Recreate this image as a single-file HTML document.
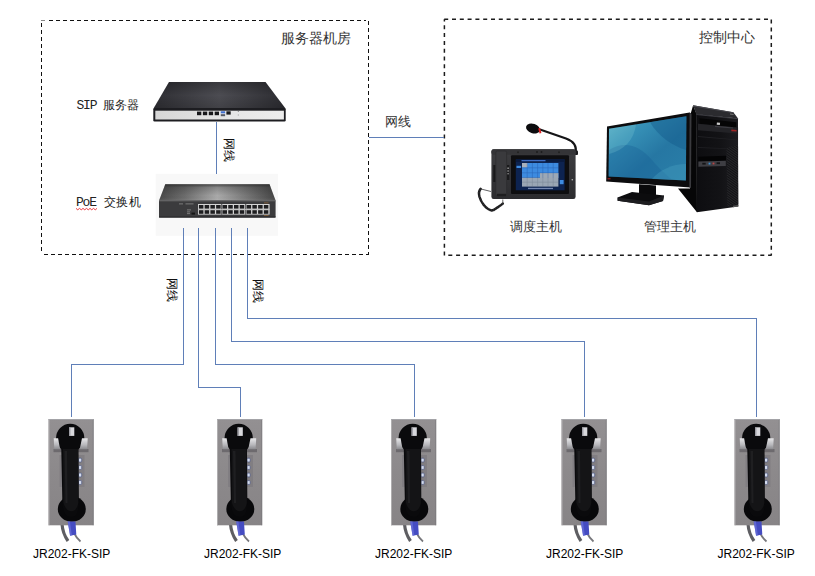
<!DOCTYPE html>
<html lang="zh">
<head>
<meta charset="utf-8">
<title>SIP 网络拓扑</title>
<style>
html,body{margin:0;padding:0;background:#fff;}
body{width:815px;height:576px;position:relative;overflow:hidden;font-family:"Liberation Sans",sans-serif;}
svg{position:absolute;left:0;top:0;}
.t{position:absolute;white-space:nowrap;line-height:1;color:#333;}
.title{font-size:14.15px;color:#333;}
.mono{font-family:"Liberation Mono","Liberation Sans",sans-serif;font-size:13px;letter-spacing:-1.2px;color:#222;}
.mono b{font-weight:normal;font-family:"Liberation Sans",sans-serif;font-size:12px;letter-spacing:0;}
.cap{font-size:12.6px;color:#333;}
.net{font-size:12.9px;color:#333;}
.vnet{writing-mode:vertical-rl;text-orientation:sideways;font-size:12px;color:#111;}
.model{font-size:12px;color:#000;}
</style>
</head>
<body>
<svg id="g" width="815" height="576" viewBox="0 0 815 576">
<!-- dashed boxes -->
<g fill="none" stroke="#111" stroke-width="1" stroke-dasharray="4 3" shape-rendering="crispEdges">
<path d="M49 20.500H366"/>
<path d="M368.500 21V254"/>
<path d="M44 254.500H369"/>
<path d="M41.500 23V252"/>
</g>
<rect x="41" y="20" width="4" height="1" fill="#888"/>
<g fill="none" stroke="#1c1c1c" stroke-width="1.500" stroke-dasharray="4 3.800">
<path d="M444.200 19.200H771.500"/>
<path d="M771.300 19.600V255.500"/>
<path d="M448.300 255.300H771.500"/>
<path d="M444.400 19.200V256" stroke-dashoffset="1.700"/>
</g>
<!-- wires -->
<defs>
<linearGradient id="srvTop" x1="0" y1="0" x2="1" y2="0">
<stop offset="0" stop-color="#2f2f34"/><stop offset="0.5" stop-color="#4c4c52"/><stop offset="1" stop-color="#2c2c31"/>
</linearGradient>
<linearGradient id="srvTopV" x1="0" y1="0" x2="0" y2="1">
<stop offset="0" stop-color="#000" stop-opacity="0.25"/><stop offset="0.5" stop-color="#000" stop-opacity="0"/><stop offset="1" stop-color="#000" stop-opacity="0.15"/>
</linearGradient>
<linearGradient id="srvFront" x1="0" y1="0" x2="1" y2="0">
<stop offset="0" stop-color="#d6d6d6"/><stop offset="0.5" stop-color="#e4e4e4"/><stop offset="1" stop-color="#ececec"/>
</linearGradient>
<linearGradient id="swTop" x1="0" y1="0" x2="1" y2="0">
<stop offset="0" stop-color="#484848"/><stop offset="0.22" stop-color="#6c6c6c"/><stop offset="0.5" stop-color="#aaaaaa"/><stop offset="0.78" stop-color="#707070"/><stop offset="1" stop-color="#444"/>
</linearGradient>
<linearGradient id="swTopV" x1="0" y1="0" x2="0" y2="1">
<stop offset="0" stop-color="#222" stop-opacity="0.7"/><stop offset="0.2" stop-color="#222" stop-opacity="0.25"/><stop offset="0.7" stop-color="#222" stop-opacity="0"/><stop offset="1" stop-color="#fff" stop-opacity="0.1"/>
</linearGradient>
<linearGradient id="plate" x1="0" y1="0" x2="0" y2="1">
<stop offset="0" stop-color="#939092"/><stop offset="0.5" stop-color="#8c898b"/><stop offset="1" stop-color="#878486"/>
</linearGradient>
<linearGradient id="hook" x1="0" y1="0" x2="0" y2="1">
<stop offset="0" stop-color="#e8e8ea"/><stop offset="0.6" stop-color="#b8b8bc"/><stop offset="1" stop-color="#8a8a8e"/>
</linearGradient>
<g id="phone">
<!-- cables -->
<path d="M13.500 105 C14 112 16 117 19.500 122" fill="none" stroke="#5e5e62" stroke-width="3.200"/>
<path d="M25.500 114 C27 117 29 120 32 122.500" fill="none" stroke="#77777b" stroke-width="1.800"/>
<!-- plate -->
<rect x="0" y="0" width="45.200" height="106.300" fill="url(#plate)"/>
<rect x="0" y="0" width="1" height="106.300" fill="#b8b6b8" opacity="0.800"/><rect x="44.200" y="0" width="1" height="106.300" fill="#77757a" opacity="0.600"/>
<rect x="0" y="0" width="45.200" height="1" fill="#a8a8ac" opacity="0.800"/>
<!-- base strip -->
<rect x="5" y="30" width="35" height="3.200" fill="#6d6a6e"/>
<!-- keypad -->
<rect x="11" y="36" width="25" height="32" fill="#817e82"/>
<g fill="#d4dcee" stroke="#4b547c" stroke-width="0.700">
<rect x="30" y="39.200" width="3.200" height="3.800" rx="0.900"/>
<rect x="30" y="46.600" width="3.200" height="3.800" rx="0.900"/>
<rect x="30" y="54.100" width="3.200" height="3.800" rx="0.900"/>
<rect x="30" y="61.600" width="3.200" height="3.800" rx="0.900"/>
</g>
<!-- handset -->
<ellipse cx="23.300" cy="90" rx="14" ry="12.800" fill="#08080a"/>
<path d="M7.500 19.500 A14.200 14.700 0 0 1 35.900 19.500 C35.900 23.500 33 27 30 30.500 L30.300 80 C30.300 92 29 98 23 98 C16 98 14 92 13.800 80 L12.800 30.500 C10 27 7.500 23.500 7.500 19.500 Z" fill="#0a0a0c"/>
<path d="M14.500 30 L29.500 30 L29.800 84 C28 95 18 95 15 84 Z" fill="#141416"/>
<path d="M16 32 L18.500 32 L19 84 L17 84 Z" fill="#232326" opacity="0.700"/>
<rect x="20.600" y="8.300" width="5.200" height="8.600" fill="#d8d8dc"/>
<rect x="20.600" y="8.300" width="1.300" height="8.600" fill="#9a9aa0"/>
<path d="M19.200 102.600 L27 102.600 L27.800 115.400 L21.600 116.800 Z" fill="#454cc2"/><path d="M19.200 102.600 L21.400 102.600 L23.400 116.400 L21.600 116.800 Z" fill="#6b72da" opacity="0.700"/>
<!-- hooks -->
<path d="M5.200 19.200 L9.600 19.200 L11.600 30.200 L5.800 30.200 Z" fill="url(#hook)"/>
<path d="M33.500 19.200 L39.200 19.200 L38.600 30.200 L31.200 30.200 Z" fill="url(#hook)"/>
</g>
</defs>
<path d="M76.00 208.4 L77.75 209.8 L79.50 208.4 L81.25 209.8 L83.00 208.4 L84.75 209.8 L86.50 208.4 L88.25 209.8 L90.00 208.4 L91.75 209.8 L93.50 208.4 L95.25 209.8 L97.00 208.4" fill="none" stroke="#e8242a" stroke-width="0.9"/>
<!-- server -->
<g id="server">
<path d="M169 82 L265.500 82 L285.500 108.500 L153.500 108.500 Z" fill="url(#srvTop)"/>
<path d="M169 82 L265.500 82 L285.500 108.500 L153.500 108.500 Z" fill="url(#srvTopV)"/>
<rect x="153.300" y="108" width="132.400" height="13.400" rx="1.200" fill="#1d1d21"/>
<rect x="155.300" y="110.700" width="128.600" height="8.800" fill="url(#srvFront)"/>
<g fill="#17171a">
<rect x="197" y="111.600" width="4.300" height="3.600"/><rect x="202.900" y="111.600" width="4.300" height="3.600"/><rect x="208.800" y="111.600" width="4.300" height="3.600"/><rect x="214.700" y="111.600" width="4.300" height="3.600"/>
<rect x="226.400" y="111.300" width="4.300" height="3.300"/>
</g>
<rect x="220.800" y="111.300" width="4.300" height="2" fill="#3f6fd0"/><rect x="220.800" y="114.200" width="4.300" height="2" fill="#555a66"/>
<rect x="237.800" y="111" width="1" height="1" fill="#888"/><rect x="237.800" y="114.500" width="1" height="1" fill="#999"/>
</g>
<!-- switch -->
<g id="switch">
<rect x="155.700" y="173.800" width="122.300" height="62" fill="#f8f8f8"/>
<path d="M165.300 184.300 L269.500 184.300 L275.600 200.600 L159 200.600 Z" fill="url(#swTop)"/>
<path d="M165.300 184.300 L269.500 184.300 L275.600 200.600 L159 200.600 Z" fill="url(#swTopV)"/>
<rect x="159" y="200.300" width="116.600" height="17.300" rx="0.800" fill="#3b3b3d"/>
<rect x="159" y="200.300" width="116.600" height="1" fill="#6a6a6c"/>
<rect x="159" y="216.400" width="116.600" height="1.200" fill="#2a2a2b"/>
<rect x="198" y="204" width="71.600" height="10.600" fill="#d4d4d4"/>
<g fill="#1e1e20">
<rect x="198.90" y="205" width="4.5" height="3.6"/><rect x="198.90" y="210.2" width="4.5" height="3.6"/><rect x="204.65" y="205" width="4.5" height="3.6"/><rect x="204.65" y="210.2" width="4.5" height="3.6"/><rect x="210.40" y="205" width="4.5" height="3.6"/><rect x="210.40" y="210.2" width="4.5" height="3.6"/><rect x="216.15" y="205" width="4.5" height="3.6"/><rect x="216.15" y="210.2" width="4.5" height="3.6"/><rect x="222.50" y="205" width="4.5" height="3.6"/><rect x="222.50" y="210.2" width="4.5" height="3.6"/><rect x="228.25" y="205" width="4.5" height="3.6"/><rect x="228.25" y="210.2" width="4.5" height="3.6"/><rect x="234.00" y="205" width="4.5" height="3.6"/><rect x="234.00" y="210.2" width="4.5" height="3.6"/><rect x="239.75" y="205" width="4.5" height="3.6"/><rect x="239.75" y="210.2" width="4.5" height="3.6"/><rect x="246.60" y="205" width="4.5" height="3.6"/><rect x="246.60" y="210.2" width="4.5" height="3.6"/><rect x="252.35" y="205" width="4.5" height="3.6"/><rect x="252.35" y="210.2" width="4.5" height="3.6"/><rect x="258.10" y="205" width="4.5" height="3.6"/><rect x="258.10" y="210.2" width="4.5" height="3.6"/><rect x="263.85" y="205" width="4.5" height="3.6"/><rect x="263.85" y="210.2" width="4.5" height="3.6"/>
</g>
<rect x="221.300" y="204" width="0.900" height="10.600" fill="#3b3b3d"/><rect x="245.300" y="204" width="0.900" height="10.600" fill="#3b3b3d"/>
<rect x="198" y="209" width="71.600" height="0.800" fill="#bdbdbd"/>
<g fill="#8a8a8a"><rect x="179" y="203.500" width="4" height="0.800"/><rect x="185.500" y="203.500" width="8" height="0.800"/>
<rect x="187" y="209.500" width="4" height="0.800"/><rect x="187" y="211.500" width="3" height="0.800"/><rect x="187" y="213.300" width="3" height="0.800"/></g>
<rect x="191.500" y="212.600" width="3.500" height="2" fill="#151515"/>
<rect x="264" y="202.500" width="4.500" height="0.800" fill="#8a6238"/><rect x="264" y="215.200" width="4.500" height="0.800" fill="#8a6238"/>
</g>
<g id="wires" fill="none" stroke="#5f7fb8" stroke-width="1" shape-rendering="crispEdges">
<path d="M369 137.5H444"/>
<path d="M216.5 122V174"/>
<path d="M183.5 228V364.5H71.5V417"/>
<path d="M198.5 228V387.5H240.5V417"/>
<path d="M215.5 228V364.5H414.5V417"/>
<path d="M231.5 228V341.5H584.5V417"/>
<path d="M247.5 228V318.5H756.5V417"/>
</g>
<!-- phones -->
<use href="#phone" x="48.500" y="419"/>
<use href="#phone" x="217" y="419"/>
<use href="#phone" x="391" y="419"/>
<use href="#phone" x="561.500" y="419"/>
<use href="#phone" x="734.500" y="419"/>

<defs>
<linearGradient id="scr" x1="0" y1="0" x2="1" y2="1">
<stop offset="0" stop-color="#5cb2c8"/><stop offset="0.28" stop-color="#3690b6"/><stop offset="0.6" stop-color="#2677a3"/><stop offset="1" stop-color="#2a7fa9"/>
</linearGradient>
<linearGradient id="towerF" x1="0" y1="0" x2="1" y2="0">
<stop offset="0" stop-color="#0d0d10"/><stop offset="0.6" stop-color="#131316"/><stop offset="1" stop-color="#1c1c20"/>
</linearGradient>
<linearGradient id="conBody" x1="0" y1="0" x2="0" y2="1">
<stop offset="0" stop-color="#3d3d40"/><stop offset="1" stop-color="#2c2c2f"/>
</linearGradient>
<pattern id="mesh" width="2" height="2" patternUnits="userSpaceOnUse" patternTransform="rotate(35)">
<rect width="2" height="2" fill="#121215"/><rect width="2" height="0.800" fill="#2a2a2e"/>
</pattern>
</defs>
<!-- dispatcher console -->
<g id="console">
<!-- coiled cord -->
<path d="M491 191.500 L481 189" fill="none" stroke="#3a3a3c" stroke-width="0.800"/>
<path d="M480.600 188.800 C478.600 191 478.800 194 479.400 196.500 C480.400 200 481.800 202.600 483.600 204.800 C486 207.800 489 210.200 491.800 210.500 C494 210.300 496 208.600 497.800 207.200 C499.600 206 501.400 204.800 502.800 203.600" fill="none" stroke="#1b1b1d" stroke-width="2.500" stroke-linecap="round"/>
<path d="M480.600 188.800 C478.600 191 478.800 194 479.400 196.500 C480.400 200 481.800 202.600 483.600 204.800 C486 207.800 489 210.200 491.800 210.500 C494 210.300 496 208.600 497.800 207.200 C499.600 206 501.400 204.800 502.800 203.600" fill="none" stroke="#555" stroke-width="2.500" stroke-dasharray="0.500 1.600" opacity="0.600"/>
<path d="M502.800 199.500V203.600" stroke="#444" stroke-width="0.800"/>
<!-- mic gooseneck -->
<path d="M575.500 153 C577 146 573 141 566 138.500 L540 129.500" fill="none" stroke="#151517" stroke-width="2.200" stroke-linecap="round"/>
<rect x="572" y="150.500" width="6" height="4.500" rx="1" fill="#1a1a1c"/>
<ellipse cx="533" cy="128.500" rx="7.200" ry="4.700" transform="rotate(19 533 128.500)" fill="#0c0c0e"/>
<path d="M539.100 128.200 L540.500 133.200" stroke="#d22" stroke-width="1.900"/>
<!-- body -->
<rect x="491.400" y="149.200" width="84.200" height="49.800" rx="2.200" fill="url(#conBody)"/>
<rect x="491.400" y="149.200" width="84.200" height="5.500" rx="2.200" fill="#343437"/>
<circle cx="518" cy="152.200" r="1" fill="#222"/><circle cx="537" cy="152" r="1" fill="#1c1c1e"/><circle cx="541.500" cy="152" r="1" fill="#1c1c1e"/><circle cx="559" cy="152.200" r="1" fill="#222"/>
<!-- handset -->
<rect x="495.800" y="151" width="10.800" height="44.500" rx="1.500" fill="#3a3a3d"/>
<rect x="495.800" y="151" width="10.800" height="44.500" rx="1.500" fill="none" stroke="#2a2a2c" stroke-width="0.600"/>
<rect x="493.300" y="165" width="2" height="17" fill="#19191b"/>
<rect x="507" y="165" width="2.300" height="15" fill="#1a1a1c"/>
<rect x="507.400" y="167.500" width="1.400" height="1.400" fill="#aaa"/><rect x="507.400" y="170.300" width="1.400" height="1.400" fill="#999"/><rect x="507.400" y="173" width="1.400" height="1.400" fill="#888"/>
<rect x="497" y="193.800" width="9" height="2.400" fill="#1e1e20"/>
<!-- screen bezel -->
<rect x="511" y="155.300" width="58" height="38.800" rx="1" fill="#0e0e10"/>
<rect x="515.800" y="159.300" width="48.800" height="31" fill="#0d2350"/>
<rect x="515.800" y="159.300" width="48.800" height="2.600" fill="#0a1a3c"/>
<rect x="521.500" y="160" width="24" height="1.300" fill="#3f6cc0"/>
<!-- grid -->
<rect x="522" y="163" width="36.400" height="14.800" fill="#3d8be0"/>
<rect x="540" y="173" width="18.400" height="5" fill="#9ca8b6"/>
<rect x="522" y="177.800" width="36.400" height="8.800" fill="#9aa6b4"/>
<rect x="522" y="163" width="5.400" height="4.400" fill="#aab2bc"/>
<g stroke="#1c4a9c" stroke-width="0.500" opacity="0.600"><path d="M522 167.800H558.400M522 172.800H558.400M527.200 163V177.800M532.400 163V177.800M537.600 163V177.800M542.800 163V177.800M548 163V177.800M553.200 163V177.800"/></g>
<g stroke="#5d6a7a" stroke-width="0.500" opacity="0.500"><path d="M522 182.200H558.400M527.200 177.800V186.600M532.400 177.800V186.600M537.600 177.800V186.600M542.800 177.800V186.600M548 177.800V186.600M553.200 177.800V186.600"/></g>
<rect x="516.500" y="165.800" width="4.600" height="2.200" fill="#3d8be0"/>
<rect x="559.800" y="180" width="3.800" height="4.200" fill="#3d8be0"/>
<rect x="528" y="187.800" width="25" height="1.300" fill="#8fa0c8" opacity="0.800"/>
<circle cx="572.300" cy="179.800" r="0.800" fill="#bbb"/>
</g>
<!-- monitor + tower -->
<g id="pc">
<!-- tower -->
<path d="M690 116 L693.100 105.300 L696.600 114 L697 212.300 L678 188.500 L690 188.500 Z" fill="#060607"/>
<path d="M696.200 113.800 L738 118.400 L738.300 206.400 L696.800 212.300 Z" fill="url(#towerF)"/>
<path d="M693.100 105.300 L733.300 112.200 L738.100 118.600 L696.300 114.200 Z" fill="#2b2b2f"/>
<path d="M693.100 105.300 L733.300 112.200 L734 113.200 L693.300 106.600 Z" fill="#4a4a50"/>
<path d="M696.300 114 L738.100 118.400 L738.100 119.300 L696.300 115 Z" fill="#3c3c42"/>
<path d="M730 113.400 L733.600 114 L733.600 115 L730 114.500 Z" fill="#777"/>
<path d="M699.500 118.300 L736.300 122.300 L736.300 127.400 L699.500 123.800 Z" fill="#050506"/>
<path d="M698 123.800 L736.800 127.400 L736.800 133.400 L698 130.200 Z" fill="#232327"/>
<path d="M715 125.800 L733 127.600 L733 128.600 L715 127 Z" fill="#3c3c42"/>
<rect x="716.800" y="122.500" width="3.200" height="2.300" fill="#c8c8c8" transform="rotate(6 718 123.600)"/>
<path d="M731.300 129.600 L736.600 130 L736.600 131.600 L731.300 131.200 Z" fill="#a02424"/>
<path d="M698 136 L737 139.500 L737 140.300 L698 137 Z" fill="#202024"/>
<path d="M698 147 L726.500 148.200 L726.500 149 L698 148 Z" fill="#1e1e22"/>
<path d="M726.500 148.300 L737.800 144.500 L738.200 204.300 L727.300 206 Z" fill="url(#mesh)"/>
<path d="M698.300 156.800 L726 155.800 L726 160.800 L698.300 161.400 Z" fill="#040405"/>
<path d="M698.400 161.400 L725.800 160.800 L725.800 166 L698.400 166.800 Z" fill="#3e3e43"/>
<rect x="702.300" y="162.800" width="3.400" height="1.800" fill="#141416"/><rect x="708.600" y="162.700" width="1.800" height="1.800" fill="#3a8fd0"/><rect x="712.600" y="162.600" width="1.800" height="1.800" fill="#b44"/><rect x="716.600" y="162.300" width="3.400" height="1.800" fill="#141416"/>
<path d="M733 205.700 L738.300 205 L738.300 206.500 L733 207.300 Z" fill="#555"/>
<!-- monitor -->
<path d="M607 126.600 L689.600 112.600 L691 113.500 L690.500 187.600 L606.200 181.500 Z" fill="#0c0c0e"/>
<path d="M689.600 112.600 L691.500 114 L691 188 L689.300 187.500 Z" fill="#3a3a3e"/>
<path d="M609 128.800 L686.400 116.200 L685.900 180.600 L608.600 176.400 Z" fill="url(#scr)"/>
<path d="M650 122.300 L686.400 116.200 L686.100 150 C672 146 658 136 650 122.300 Z" fill="#155a8c" opacity="0.450"/>
<path d="M609 150 C625 140 640 146 652 160 C660 170 668 176 672 179.800 L608.600 176.400 Z" fill="#175f94" opacity="0.350"/>
<path d="M652 179 C660 170 672 164 686 164 L685.900 180.600 Z" fill="#4aa2c4" opacity="0.350"/>
<path d="M609 128.800 L636 124.400 C634 140 624 150 609 154 Z" fill="#8fd6dc" opacity="0.220"/>
<rect x="607.500" y="178.300" width="3" height="1" fill="#b22"/>
<!-- stand -->
<path d="M639 184.300 L656 185.500 L656 196 L639 194.500 Z" fill="#09090b"/>
<path d="M617.600 197.500 L632 192 L664 195.400 L663 201 L649 205.200 L617.600 200.800 Z" fill="#0c0c0e"/>
<path d="M617.600 197.500 L649 201.600 L664 195.400 L663 201 L649 205.200 L617.600 200.800 Z" fill="#1d1d20"/>
</g>

</svg>
<div class="t title" style="left:281px;top:30.8px;">服务器机房</div>
<div class="t title" style="left:698.5px;top:30.8px;font-size:13.7px;">控制中心</div>
<div class="t mono" style="left:76.5px;top:99px;">SIP <b>服务器</b></div>
<div class="t mono" style="left:76px;top:196px;">PoE <b style="margin-left:1.5px;letter-spacing:0.4px;">交换机</b></div>
<div class="t net" style="left:384.6px;top:116.2px;">网线</div>
<div class="t vnet" style="left:223px;top:138px;">网线</div>
<div class="t vnet" style="left:166px;top:278px;">网线</div>
<div class="t vnet" style="left:252px;top:279px;">网线</div>
<div class="t cap" style="left:509.8px;top:220.5px;">调度主机</div>
<div class="t cap" style="left:643.5px;top:220.5px;">管理主机</div>
<div class="t model" style="left:33px;top:548px;">JR202-FK-SIP</div>
<div class="t model" style="left:204px;top:548px;">JR202-FK-SIP</div>
<div class="t model" style="left:375px;top:548px;">JR202-FK-SIP</div>
<div class="t model" style="left:546px;top:548px;">JR202-FK-SIP</div>
<div class="t model" style="left:717.5px;top:548px;">JR202-FK-SIP</div>
</body>
</html>
